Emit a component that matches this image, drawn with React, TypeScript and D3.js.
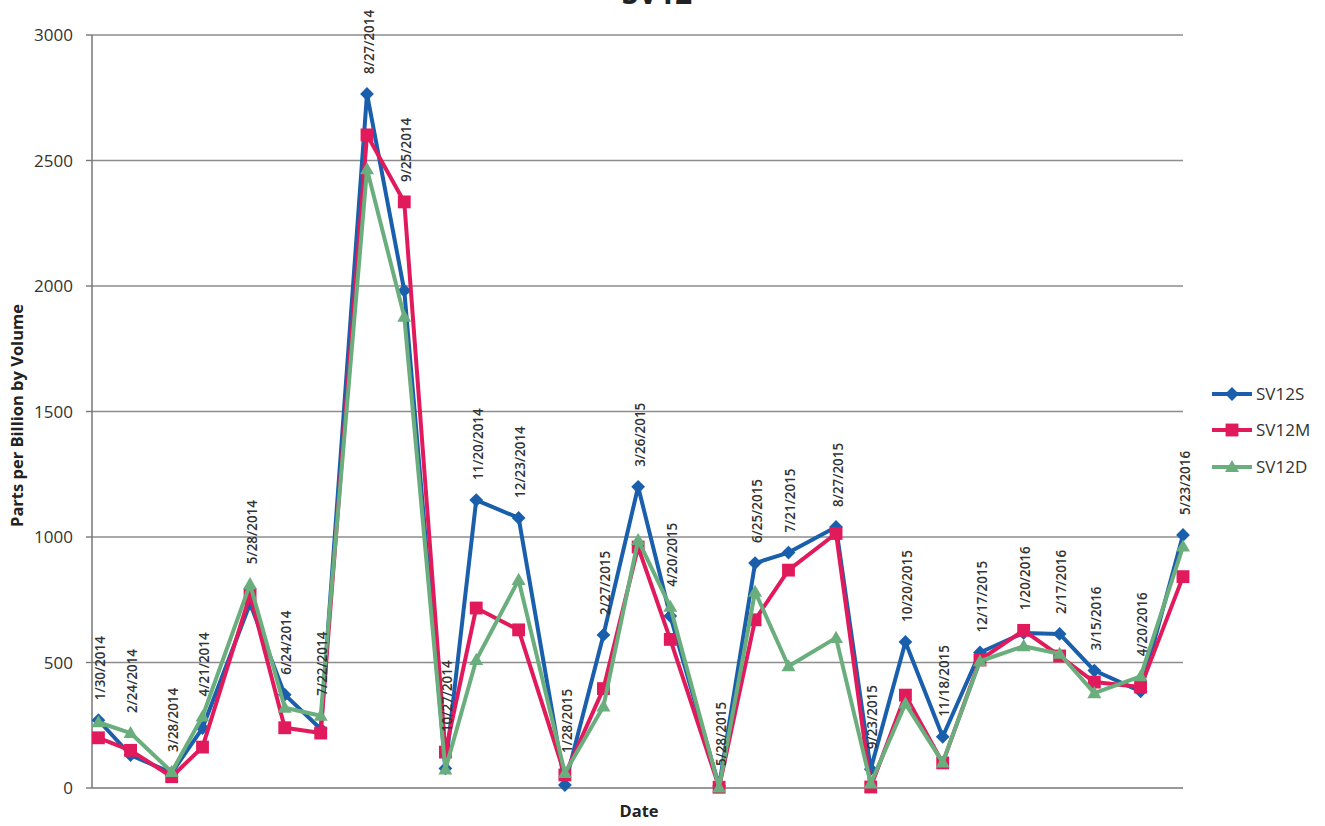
import React from "react";
import * as d3 from "d3";

const dates = [
  "1/30/2014", "2/24/2014", "3/28/2014", "4/21/2014", "5/28/2014", "6/24/2014", "7/22/2014",
  "8/27/2014", "9/25/2014", "10/27/2014", "11/20/2014", "12/23/2014", "1/28/2015", "2/27/2015",
  "3/26/2015", "4/20/2015", "5/28/2015", "6/25/2015", "7/21/2015", "8/27/2015", "9/23/2015",
  "10/20/2015", "11/18/2015", "12/17/2015", "1/20/2016", "2/17/2016", "3/15/2016", "4/20/2016",
  "5/23/2016",
];

const sv12S = [270, 131, 60, 239, 735, 372, 235, 2765, 1982, 78, 1147, 1076, 12, 610,
  1200, 685, 8, 896, 938, 1040, 75, 582, 204, 540, 618, 614, 468, 385, 1008];
const sv12M = [200, 150, 45, 163, 770, 240, 219, 2602, 2335, 143, 717, 630, 52, 396,
  960, 592, 3, 670, 868, 1014, 4, 370, 100, 510, 628, 526, 422, 402, 842];
const sv12D = [262, 219, 64, 285, 812, 320, 288, 2465, 1878, 74, 510, 829, 60, 325,
  988, 722, 2, 782, 485, 598, 18, 336, 102, 505, 565, 535, 378, 445, 962];

const yTicks = [0, 500, 1000, 1500, 2000, 2500, 3000];
const xDomain = ["1/25/2014", "5/23/2016"];

const seriesNames = ["SV12S", "SV12M", "SV12D"];
const seriesValues = [sv12S, sv12M, sv12D];
const seriesColors = ["#1a5fab", "#e11a5c", "#6bae7d"];
const seriesShapes = ["diamond", "square", "triangle"];

const parse = d3.timeParse("%m/%d/%Y");

function Marker({ shape, color, x, y }: { shape: string; color: string; x: number; y: number }) {
  if (shape === "diamond") {
    const p = d3.symbol().type(d3.symbolSquare).size(95)();
    return <path d={p || ""} fill={color} transform={`translate(${x},${y}) rotate(45)`} />;
  }
  if (shape === "square") {
    const p = d3.symbol().type(d3.symbolSquare).size(165)();
    return <path d={p || ""} fill={color} transform={`translate(${x},${y})`} />;
  }
  const p = d3.symbol().type(d3.symbolTriangle).size(85)();
  return <path d={p || ""} fill={color} transform={`translate(${x},${y + 1})`} />;
}

export default function App() {
  const W = 1325, H = 826;
  const left = 92, right = 1183, top = 35, bottom = 788;
  const x = d3.scaleTime().domain(xDomain.map((d) => parse(d) as Date)).range([left, right]);
  const y = d3.scaleLinear().domain([0, 3000]).range([bottom, top]);
  const font = "'Open Sans', sans-serif";

  const pts = dates.map((d, i) => ({
    date: d,
    x: x(parse(d) as Date),
    max: Math.max(sv12S[i], sv12M[i], sv12D[i]),
  }));

  const line = d3.line<[number, number]>().x((d) => d[0]).y((d) => d[1]);

  const legendY = [394, 430, 467];

  return (
    <svg width={W} height={H} style={{ position: "absolute", left: 0, top: 0, background: "#fff" }}>
      <rect x={0} y={0} width={W} height={H} fill="#fff" />
      <text x={657} y={4} textAnchor="middle" fontFamily={font} fontWeight="bold" fontSize={30} fill="#222">SV12</text>

      {yTicks.map((t) => (
        <g key={t}>
          {t > 0 && <line x1={left} x2={right} y1={y(t)} y2={y(t)} stroke="#8c8c8c" strokeWidth={1.4} />}
          <line x1={left - 6} x2={left} y1={y(t)} y2={y(t)} stroke="#777" strokeWidth={1.4} />
          <text x={73} y={y(t)} dy="0.36em" textAnchor="end" fontFamily={font} fontSize={17} fill="#333">{t}</text>
        </g>
      ))}
      <line x1={left} x2={left} y1={top} y2={bottom} stroke="#777" strokeWidth={1.5} />
      <line x1={left} x2={right} y1={bottom} y2={bottom} stroke="#777" strokeWidth={1.5} />

      <text transform={`translate(23,${(top + bottom) / 2 + 4}) rotate(-90)`} textAnchor="middle" fontFamily={font} fontWeight="bold" fontSize={16.5} fill="#222">Parts per Billion by Volume</text>
      <text x={639} y={817} textAnchor="middle" fontFamily={font} fontWeight="bold" fontSize={16.5} fill="#222">Date</text>

      {seriesValues.map((vals, si) => {
        const coords: [number, number][] = vals.map((v, i) => [pts[i].x, y(v)]);
        return (
          <g key={si}>
            <path d={line(coords) || ""} fill="none" stroke={seriesColors[si]} strokeWidth={4} strokeLinejoin="round" />
            {coords.map((c, i) => (
              <Marker key={i} shape={seriesShapes[si]} color={seriesColors[si]} x={c[0]} y={c[1]} />
            ))}
          </g>
        );
      })}

      {pts.map((p, i) => (
        <text key={i} transform={`translate(${p.x + 2},${y(p.max) - 20}) rotate(-90)`} dy="0.35em" textAnchor="start" fontFamily={font} fontWeight={600} fontSize={13.4} fill="#333">{p.date}</text>
      ))}

      {seriesNames.map((n, si) => (
        <g key={n}>
          <line x1={1212} x2={1252} y1={legendY[si]} y2={legendY[si]} stroke={seriesColors[si]} strokeWidth={4} />
          <Marker shape={seriesShapes[si]} color={seriesColors[si]} x={1232} y={legendY[si]} />
          <text x={1256} y={legendY[si]} dy="0.36em" fontFamily={font} fontSize={17} fill="#333">{n}</text>
        </g>
      ))}
    </svg>
  );
}
